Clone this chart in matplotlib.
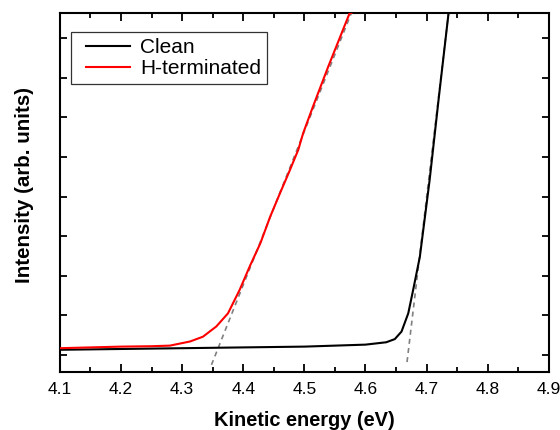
import matplotlib
matplotlib.use("Agg")
import matplotlib.pyplot as plt
from matplotlib.ticker import MultipleLocator, NullFormatter
from matplotlib.legend_handler import HandlerLine2D
from matplotlib.lines import Line2D

plt.rcParams['font.family'] = ['Liberation Sans', 'DejaVu Sans']

# Clean surface spectrum (arb. units)
clean_e = [4.10, 4.20, 4.30, 4.40, 4.50, 4.60, 4.634, 4.648, 4.659, 4.670, 4.678, 4.689, 4.705, 4.720, 4.736]
clean_i = [0.13, 0.15, 0.17, 0.19, 0.21, 0.26, 0.32, 0.40, 0.59, 1.05, 1.64, 2.48, 4.42, 6.5, 8.64]

# H-terminated surface spectrum
hterm_e = [4.10, 4.15, 4.20, 4.25, 4.280, 4.313, 4.334, 4.356, 4.375, 4.394, 4.411, 4.428, 4.444,
           4.460, 4.475, 4.490, 4.498, 4.514, 4.539, 4.574, 4.577]
hterm_i = [0.17, 0.19, 0.21, 0.22, 0.235, 0.34, 0.46, 0.72, 1.05, 1.64, 2.25, 2.82, 3.49,
           4.08, 4.62, 5.18, 5.60, 6.27, 7.28, 8.63, 8.64]

# linear fits of the onsets (dashed)
fit_clean_e = [4.668, 4.736]
fit_clean_i = [-0.18, 8.64]
fit_hterm_e = [4.348, 4.577]
fit_hterm_i = [-0.25, 8.64]

fig = plt.figure(figsize=(5.6, 4.3), dpi=100)
ax = fig.add_axes([0.107, 0.135, 0.873, 0.835])

ax.plot(fit_clean_e, fit_clean_i, color='#808080', ls=(0, (3, 2.5)), lw=1.2, zorder=1)
ax.plot(fit_hterm_e, fit_hterm_i, color='#808080', ls=(0, (3, 2.5)), lw=1.2, zorder=1)
ax.plot(clean_e, clean_i, color='black', lw=1.5, label='Clean', zorder=2)
ax.plot(hterm_e, hterm_i, color='red', lw=1.5, label='H-terminated', zorder=3)

ax.set_xlim(4.1, 4.9)
ax.set_ylim(-0.43, 8.64)
ax.xaxis.set_major_locator(MultipleLocator(0.1))
ax.xaxis.set_minor_locator(MultipleLocator(0.05))
ax.yaxis.set_major_locator(MultipleLocator(1))
ax.yaxis.set_major_formatter(NullFormatter())
ax.tick_params(which='both', direction='in', top=True, right=True, width=1.3)
ax.tick_params(which='major', length=6, labelsize=12.5, pad=7)
ax.tick_params(which='minor', length=3.5)
ax.tick_params(axis='y', length=5)
for s in ax.spines.values():
    s.set_linewidth(1.5)

ax.set_xlabel('Kinetic energy (eV)', fontsize=14.4, fontweight='bold', labelpad=10)
ax.set_ylabel('Intensity (arb. units)', fontsize=14.8, fontweight='bold', labelpad=12, y=0.522)

# legend: line handles with extra room on the left like the original
hmap = {Line2D: HandlerLine2D(xpad=0.43)}
leg = ax.legend(loc='upper left', bbox_to_anchor=(0.022, 0.948), fontsize=15, frameon=True,
                fancybox=False, edgecolor='black', handlelength=2.55, borderpad=0.3,
                labelspacing=0.1, handletextpad=0.48, borderaxespad=0, handler_map=hmap)
leg.get_frame().set_linewidth(0.9)

fig.savefig('out.png', dpi=100)
